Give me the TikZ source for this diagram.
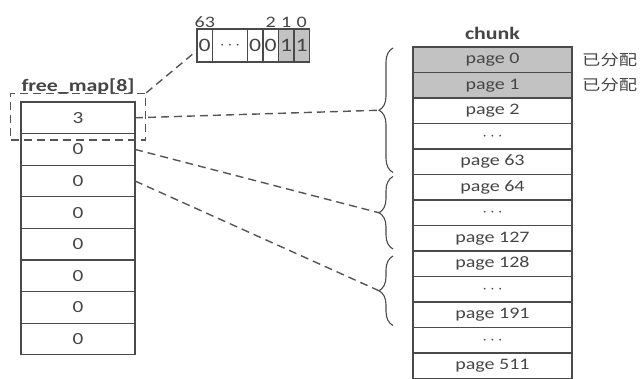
\documentclass[tikz,border=0pt]{standalone}
\usepackage{fontspec}
\setmainfont{Carlito}[FakeStretch=1.25]
\newfontfamily\cjk{Noto Sans CJK SC}[FakeStretch=1.22]
\usepackage{xcolor}
\usetikzlibrary{positioning,calc,fit,decorations.pathreplacing}
\definecolor{LineGray}{HTML}{4A4A4A}
\definecolor{TextGray}{HTML}{454545}
\definecolor{UsedGray}{HTML}{C2C2C2}
\definecolor{LinkGray}{HTML}{555555}
\tikzset{
  mapcell/.style={draw=LineGray, line width=1.2pt, outer sep=0pt, inner sep=0pt, minimum width=114pt, minimum height=31.6pt, text=TextGray, font=\fontsize{17}{17}\selectfont},
  pagecell/.style={draw=LineGray, line width=1.2pt, outer sep=0pt, inner sep=0pt, minimum width=159pt, minimum height=25.5pt, text=TextGray, font=\fontsize{16}{16}\selectfont},
  usedcell/.style={pagecell, fill=UsedGray},
  bitcell/.style={draw=LineGray, line width=1.2pt, outer sep=0pt, inner sep=0pt, minimum width=15.5pt, minimum height=33pt, text=TextGray, font=\fontsize{19}{19}\selectfont},
  bitset/.style={bitcell, fill=UsedGray},
  bitlabel/.style={inner sep=1pt, text=TextGray, font=\fontsize{16}{16}\selectfont},
  title/.style={inner sep=0pt, text=TextGray, font=\bfseries\fontsize{17.5}{17.5}\selectfont},
  usedlabel/.style={inner sep=0pt, text=TextGray, font=\cjk\fontsize{15}{15}\selectfont},
  selbox/.style={draw=LinkGray, line width=1.4pt, dash pattern=on 8pt off 5pt},
  link/.style={draw=LinkGray, line width=1.4pt, dash pattern=on 8pt off 5pt},
  brace/.style={decorate, decoration={brace, amplitude=14pt}, draw=LineGray, line width=1.1pt}
}
\begin{document}
\begin{tikzpicture}[x=1pt, y=1pt]
    \useasboundingbox (0,0) rectangle (644,-379);

    % free_map
    \node[mapcell] (f0) at (78,-117.8) {3};
    \foreach \i [count=\j from 0] in {1,...,7}
      \node[mapcell, below=0pt of f\j] (f\i) {0};
    \node[title, above=8pt of f0] (maptitle) {free\_map[8]};
    \node[selbox, fit=(f0), inner xsep=10.5pt, inner ysep=7.5pt, yshift=1pt] (sel) {};

    % bitmap of free_map[0]
    \node[bitcell] (b63) at (204.75,-45.5) {0};
    \node[bitcell, minimum width=35pt, right=0pt of b63] (bdots) {$\cdots$};
    \node[bitcell, right=0pt of bdots] (b3) {0};
    \node[bitcell, right=0pt of b3] (b2) {0};
    \node[bitset, right=0pt of b2] (b1) {1};
    \node[bitset, right=0pt of b1] (b0) {1};
    \node[bitlabel, above=0pt of b63] (l63) {63};
    \node[bitlabel, above=0pt of b2] (l2) {2};
    \node[bitlabel, above=0pt of b1] (l1) {1};
    \node[bitlabel, above=0pt of b0] (l0) {0};

    % chunk
    \node[usedcell] (p0) at (492.5,-59.75) {page 0};
    \node[usedcell, below=0pt of p0] (p1) {page 1};
    \node[pagecell, below=0pt of p1] (p2) {page 2};
    \node[pagecell, below=0pt of p2] (d1) {$\cdots$};
    \node[pagecell, below=0pt of d1] (p63) {page 63};
    \node[pagecell, below=0pt of p63] (p64) {page 64};
    \node[pagecell, below=0pt of p64] (d2) {$\cdots$};
    \node[pagecell, below=0pt of d2] (p127) {page 127};
    \node[pagecell, below=0pt of p127] (p128) {page 128};
    \node[pagecell, below=0pt of p128] (d3) {$\cdots$};
    \node[pagecell, below=0pt of d3] (p191) {page 191};
    \node[pagecell, below=0pt of p191] (d4) {$\cdots$};
    \node[pagecell, below=0pt of d4] (p511) {page 511};
    \node[title, above=7pt of p0] (chunktitle) {chunk};
    \node[usedlabel, right=10pt of p0] (u0) {已分配};
    \node[usedlabel, right=10pt of p1] (u1) {已分配};

    % braces
    \draw[brace] ([shift={(-20pt,2pt)}]p63.south west) -- ([shift={(-20pt,-1pt)}]p0.north west);
    \draw[brace] ([shift={(-20pt,2pt)}]p127.south west) -- ([shift={(-20pt,-2pt)}]p64.north west);
    \draw[brace] ([shift={(-20pt,2pt)}]p191.south west) -- ([shift={(-20pt,-5pt)}]p128.north west);
    \coordinate (t0) at ($(p0.north west)!.5!(p63.south west)+(-34pt,0.5pt)$);
    \coordinate (t1) at ($(p64.north west)!.5!(p127.south west)+(-34pt,0)$);
    \coordinate (t2) at ($(p128.north west)!.5!(p191.south west)+(-34pt,-1.5pt)$);

    % links
    \draw[link] (sel.north east) -- ([yshift=-5pt]b63.west);
    \draw[link] (f0.east) -- (t0);
    \draw[link] (f1.east) -- (t1);
    \draw[link] (f2.east) -- (t2);
  \end{tikzpicture}
\end{document}
